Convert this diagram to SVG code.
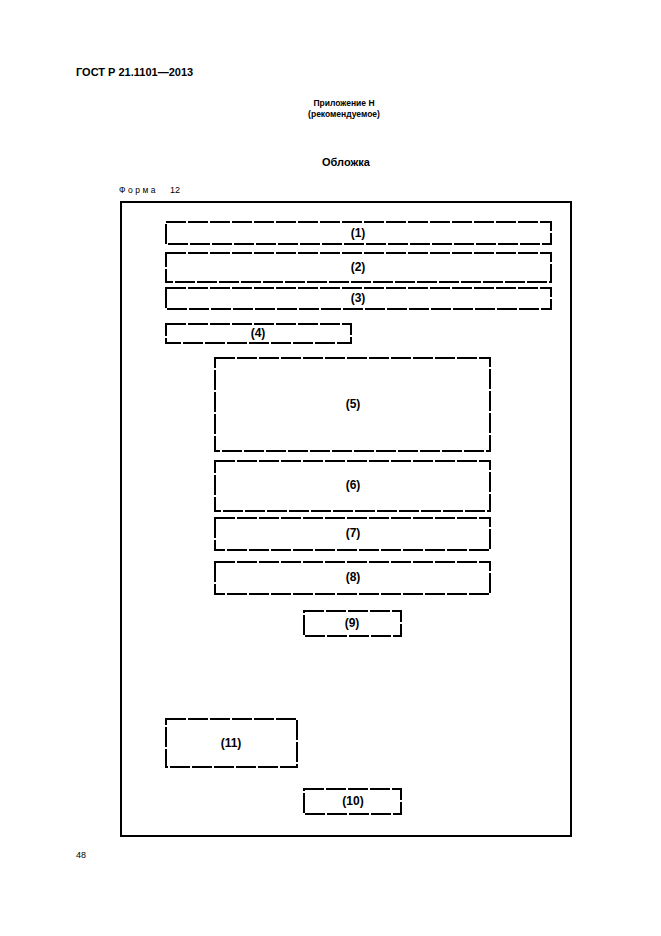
<svg xmlns="http://www.w3.org/2000/svg" width="661" height="936" viewBox="0 0 661 936">
<style>
text{font-family:"Liberation Sans",Arial,sans-serif;fill:#000}
.b{fill:none;stroke:#000;stroke-width:2;stroke-dasharray:20 2}
.l{font-size:12px;font-weight:bold;text-anchor:middle}
</style>
<rect width="661" height="936" fill="#fff"/>
<text x="76" y="76" font-size="11" font-weight="bold">ГОСТ Р 21.1101—2013</text>
<text x="344" y="106" font-size="8.5" font-weight="bold" text-anchor="middle">Приложение Н</text>
<text x="344" y="117" font-size="8.5" font-weight="bold" text-anchor="middle">(рекомендуемое)</text>
<text x="346" y="166" font-size="11" font-weight="bold" text-anchor="middle">Обложка</text>
<text x="119" y="193" font-size="8.5" letter-spacing="2.5">Форма</text>
<text x="170" y="193" font-size="9">12</text>
<text x="76" y="858" font-size="9">48</text>
<rect id="frame" x="121" y="202" width="450" height="634" fill="none" stroke="#000" stroke-width="2"/>
<g id="n1"><rect class="b" x="166" y="222" width="385" height="22"/><text class="l" x="358" y="237">(1)</text></g>
<g id="n2"><rect class="b" x="166" y="253" width="385" height="29"/><text class="l" x="358" y="271">(2)</text></g>
<g id="n3"><rect class="b" x="166" y="288" width="385" height="21"/><text class="l" x="358" y="302">(3)</text></g>
<g id="n4"><rect class="b" x="166" y="324" width="185" height="19"/><text class="l" x="258" y="337">(4)</text></g>
<g id="n5"><rect class="b" x="215" y="358" width="275" height="93"/><text class="l" x="353" y="408">(5)</text></g>
<g id="n6"><rect class="b" x="215" y="461" width="275" height="50"/><text class="l" x="353" y="489">(6)</text></g>
<g id="n7"><rect class="b" x="215" y="518" width="275" height="32"/><text class="l" x="353" y="537">(7)</text></g>
<g id="n8"><rect class="b" x="215" y="562" width="275" height="32"/><text class="l" x="353" y="581">(8)</text></g>
<g id="n9"><rect class="b" x="304" y="611" width="97" height="25"/><text class="l" x="352" y="627">(9)</text></g>
<g id="n11"><rect class="b" x="166" y="719" width="131" height="48"/><text class="l" x="231" y="747">(11)</text></g>
<g id="n10"><rect class="b" x="304" y="789" width="97" height="25"/><text class="l" x="353" y="805">(10)</text></g>
<g id="connectors"></g>
</svg>
